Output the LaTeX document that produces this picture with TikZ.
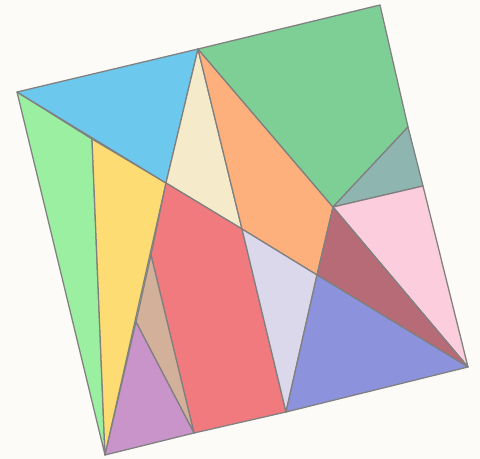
\documentclass[tikz,border=0pt]{standalone}
\definecolor{paper}{HTML}{FCFBF7}
\definecolor{edgegray}{HTML}{808080}
\definecolor{skyblue}{HTML}{6CC8EC}
\definecolor{mintgreen}{HTML}{9BEFA0}
\definecolor{sunyellow}{HTML}{FDDC73}
\definecolor{cream}{HTML}{F5EBCB}
\definecolor{coral}{HTML}{F17A7E}
\definecolor{tan}{HTML}{D3B09A}
\definecolor{orchid}{HTML}{C994C9}
\definecolor{apricot}{HTML}{FDB07C}
\definecolor{jade}{HTML}{7ECF96}
\definecolor{slateteal}{HTML}{8FB5B0}
\definecolor{blush}{HTML}{FBCDDD}
\definecolor{wine}{HTML}{B76B76}
\definecolor{lilac}{HTML}{DCD8EB}
\definecolor{periwinkle}{HTML}{8C93DC}
\usepackage{tikz}

\begin{document}
\begin{tikzpicture}[x=0.025cm,y=-0.025cm,
  piece/.style={draw=edgegray,line width=0.9pt,line join=round}]
  % Canvas
  \fill[paper] (0,0) rectangle (480,459);
  \useasboundingbox (0,0) rectangle (480,459);
  % Corners of the tilted square
  \coordinate (tl) at (17,92);
  \coordinate (tr) at (380,5);
  \coordinate (br) at (468,367);
  \coordinate (bl) at (105,455);
  % Points on the sides
  \coordinate (top) at (198,49);
  \coordinate (r1) at (408,127);
  \coordinate (r2) at (423,186);
  \coordinate (b1) at (286,412);
  \coordinate (b2) at (194,433);
  % Inner points
  \coordinate (a) at (92,139);
  \coordinate (b) at (166,183);
  \coordinate (c) at (151,255);
  \coordinate (d) at (136,322);
  \coordinate (g) at (242,229);
  \coordinate (h) at (317,275);
  \coordinate (k) at (333,207);
  % Left strip
  \filldraw[piece,fill=mintgreen] (tl) -- (a) -- (bl) -- cycle;
  \filldraw[piece,fill=sunyellow] (a) -- (b) -- (bl) -- cycle;
  \filldraw[piece,fill=skyblue] (tl) -- (top) -- (b) -- cycle;
  % Middle
  \filldraw[piece,fill=cream] (top) -- (g) -- (b) -- cycle;
  \filldraw[piece,fill=coral] (b) -- (g) -- (b1) -- (b2) -- (c) -- cycle;
  \filldraw[piece,fill=tan] (c) -- (b2) -- (d) -- cycle;
  \filldraw[piece,fill=orchid] (d) -- (b2) -- (bl) -- cycle;
  \filldraw[piece,fill=apricot] (top) -- (k) -- (h) -- (g) -- cycle;
  \filldraw[piece,fill=lilac] (g) -- (h) -- (b1) -- cycle;
  % Right side
  \filldraw[piece,fill=jade] (top) -- (tr) -- (r1) -- (k) -- cycle;
  \filldraw[piece,fill=slateteal] (k) -- (r1) -- (r2) -- cycle;
  \filldraw[piece,fill=blush] (k) -- (r2) -- (br) -- cycle;
  \filldraw[piece,fill=wine] (k) -- (br) -- (h) -- cycle;
  \filldraw[piece,fill=periwinkle] (h) -- (br) -- (b1) -- cycle;
\end{tikzpicture}
\end{document}
